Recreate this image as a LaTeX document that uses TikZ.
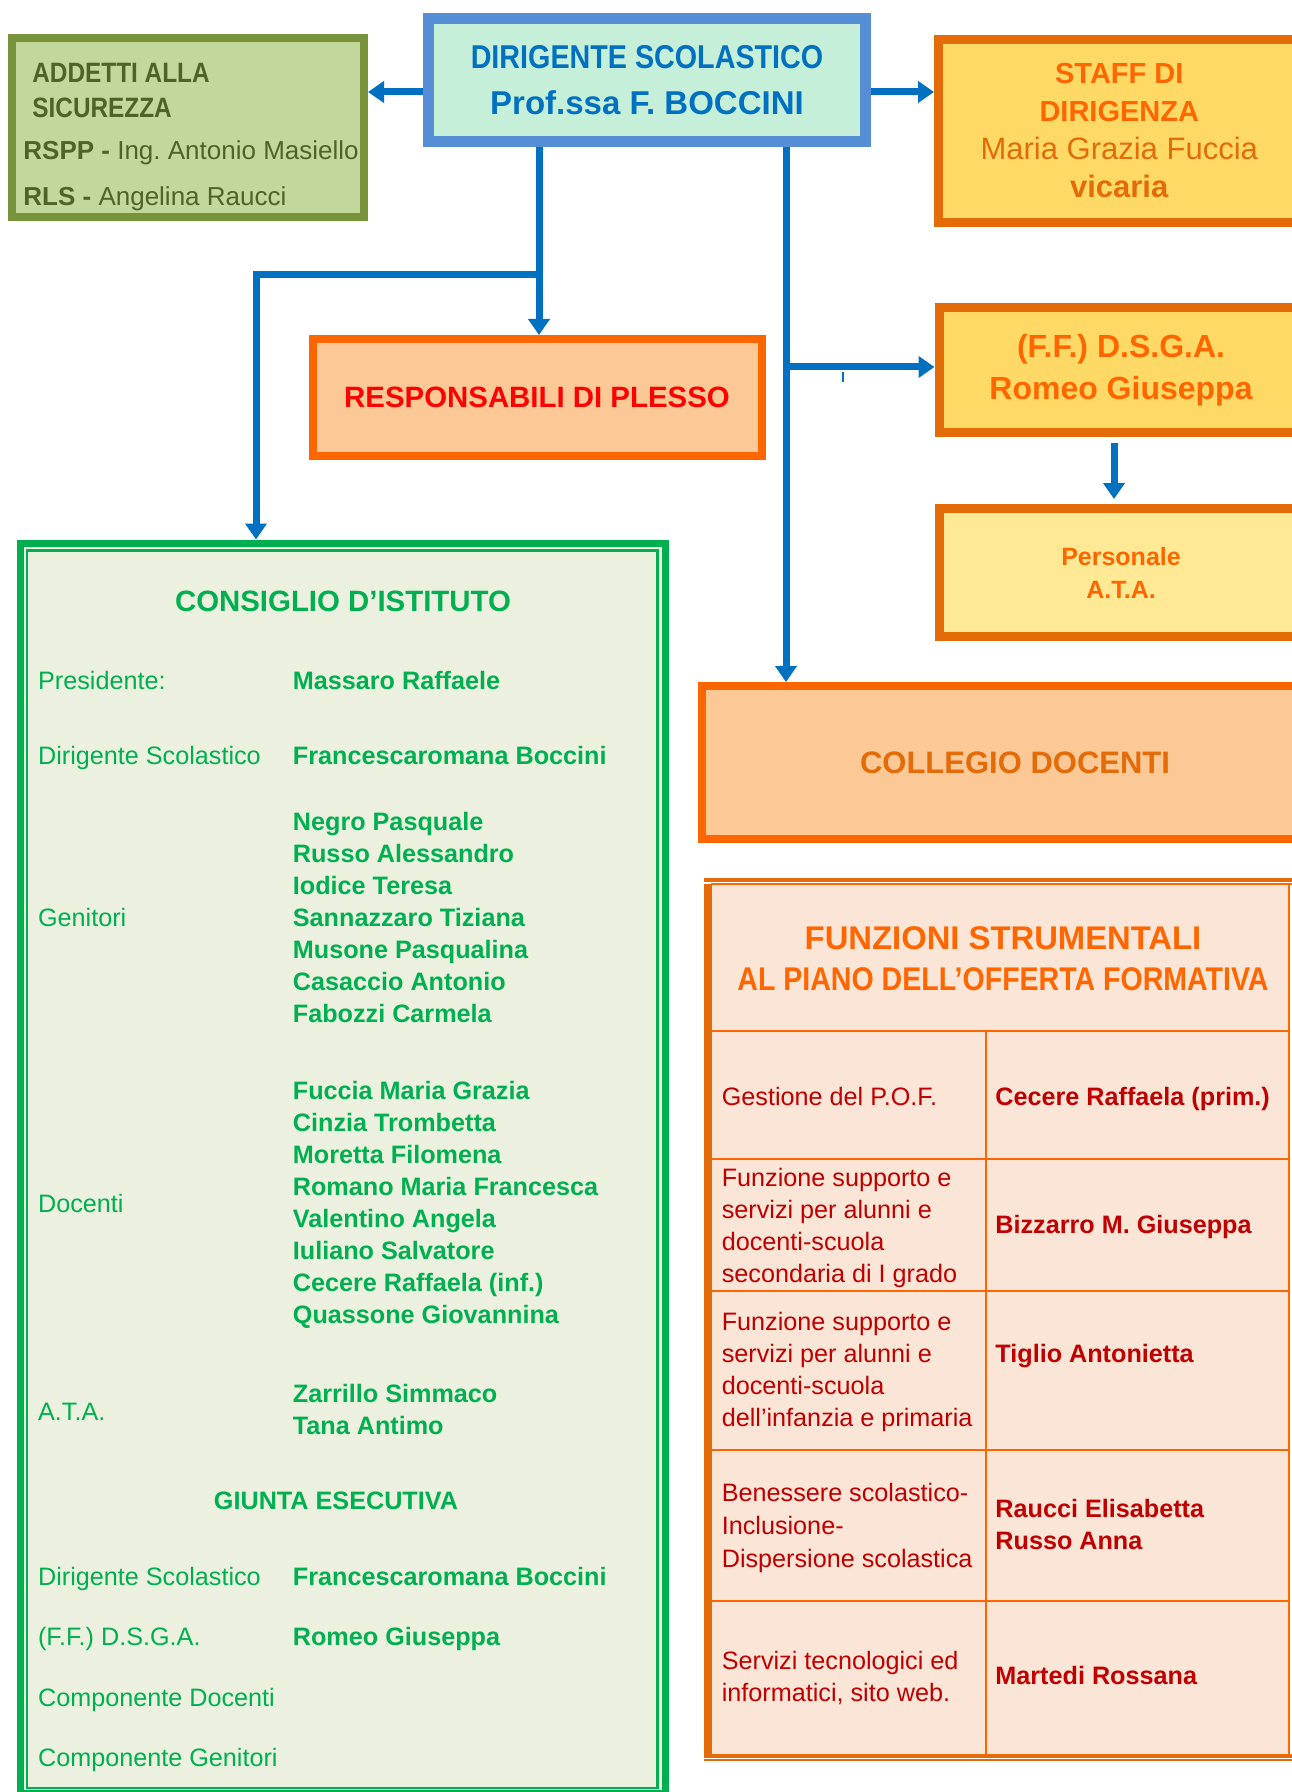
\documentclass[tikz,border=0pt]{standalone}
\usepackage{fontspec}
\setmainfont{Liberation Sans}
\newfontfamily\narrowfont[FakeStretch=0.87]{Liberation Sans}
\usepackage{xcolor}
\usetikzlibrary{arrows.meta}
\frenchspacing
\definecolor{dirborder}{HTML}{558ED5}
\definecolor{dirfill}{HTML}{C6EFDA}
\definecolor{dirtext}{HTML}{0070C0}
\definecolor{addborder}{HTML}{77933C}
\definecolor{addfill}{HTML}{C3D69B}
\definecolor{addtext}{HTML}{4F6228}
\definecolor{darkorange}{HTML}{E36C09}
\definecolor{brightorange}{HTML}{FF6600}
\definecolor{yellowfill}{HTML}{FFD966}
\definecolor{paleyellow}{HTML}{FFE994}
\definecolor{peachfill}{HTML}{FCC996}
\definecolor{plessored}{HTML}{FF0000}
\definecolor{tablefill}{HTML}{FBE5D6}
\definecolor{tabletext}{HTML}{C00000}
\definecolor{cigreen}{HTML}{00B050}
\definecolor{cifill}{HTML}{EBF1DE}
\definecolor{arrowblue}{HTML}{0070C0}
\tikzstyle{orgbox} = [rectangle, inner sep=0pt, align=center]
\tikzstyle{linkarrow} = [draw=arrowblue, line width=3.5pt,
    -{Triangle[length=8pt,width=10.5pt]}]
\tikzstyle{cilabel} = [anchor=base west, inner sep=0pt, align=left,
    text=cigreen, font=\fontsize{12.6}{16}\selectfont]
\tikzstyle{ciname} = [cilabel, font=\fontsize{12.6}{16}\selectfont\bfseries]
\tikzstyle{fslabel} = [anchor=base west, inner sep=0pt, align=left,
    text=tabletext, font=\fontsize{12.6}{16}\selectfont]
\tikzstyle{fsname} = [fslabel, font=\fontsize{12.6}{16}\selectfont\bfseries]
\tikzstyle{fsrule} = [draw=brightorange, line width=1pt]

\begin{document}
\begin{tikzpicture}[x=0.5pt, y=-0.5pt]
    \path[use as bounding box, fill=white] (0,0) rectangle (1291,1792);

    \node [orgbox, draw=dirborder, fill=dirfill, line width=5.5pt,
        minimum width=218.5pt, minimum height=61.5pt, text=dirtext,
        font=\fontsize{16.5}{23.35}\selectfont\bfseries] (dirigente) at (647,80)
        {{\narrowfont DIRIGENTE SCOLASTICO}\\Prof.ssa F. BOCCINI};
    \node [orgbox, draw=addborder, fill=addfill, line width=4pt,
        minimum width=176pt, minimum height=89.5pt] (addetti) at (188,127.5) {};
    \node [anchor=base west, inner sep=0pt, align=left, text=addtext,
        font=\fontsize{13}{17.5}\selectfont] (addettitxt) at (23,206) {
        \hspace*{4.5pt}{\narrowfont\bfseries\fontsize{14}{17.5}\selectfont ADDETTI ALLA}\\
        \hspace*{4.5pt}{\narrowfont\bfseries\fontsize{14}{17.5}\selectfont SICUREZZA}\\[3.5pt]
        \textbf{RSPP -} Ing. Antonio Masiello\\[5.5pt]
        \textbf{RLS -} Angelina Raucci};
    \node [orgbox, draw=darkorange, fill=yellowfill, line width=4.5pt,
        minimum width=180.75pt, minimum height=91.5pt, text=darkorange,
        font=\fontsize{15.5}{19}\selectfont] (staff) at (1119.25,131)
        {{\color{brightorange}\bfseries\fontsize{14.5}{19}\selectfont STAFF DI}\\
         {\color{brightorange}\bfseries\fontsize{14.5}{19}\selectfont DIRIGENZA}\\
         Maria Grazia Fuccia\\\textbf{vicaria}};
    \node [orgbox, draw=brightorange, fill=peachfill, line width=4pt,
        minimum width=224.5pt, minimum height=58.5pt, text=plessored,
        font=\fontsize{14.7}{18}\selectfont\bfseries] (responsabili) at (537,397.5)
        {RESPONSABILI DI PLESSO};
    \node [orgbox, draw=darkorange, fill=yellowfill, line width=4.5pt,
        minimum width=182pt, minimum height=62.25pt, text=brightorange,
        font=\fontsize{16}{21}\selectfont\bfseries] (dsga) at (1121,369.75)
        {(F.F.) D.S.G.A.\\Romeo Giuseppa};
    \node [orgbox, draw=darkorange, fill=paleyellow, line width=4.5pt,
        minimum width=182pt, minimum height=64pt, text=brightorange,
        font=\fontsize{12.5}{16.5}\selectfont\bfseries] (ata) at (1121,572.5)
        {Personale\\A.T.A.};
    \node [orgbox, draw=brightorange, fill=peachfill, line width=4pt,
        minimum width=313pt, minimum height=76.5pt, text=darkorange,
        font=\fontsize{15.5}{19}\selectfont\bfseries] (collegio) at (1015,762.5)
        {COLLEGIO DOCENTI};

    \node [orgbox, draw=cigreen, fill=cifill, line width=3.5pt,
        minimum width=322.25pt, minimum height=625pt] (consiglio) at (342.75,1168) {};
    \draw [cigreen, line width=1.25pt] ([shift={(10,11)}]consiglio.north west)
        rectangle ([shift={(-11,-8.5)}]consiglio.south east);
    \node [anchor=base, inner sep=0pt, text=cigreen,
        font=\fontsize{14.7}{18}\selectfont\bfseries] (cititle) at (343,611)
        {CONSIGLIO D’ISTITUTO};
    \node [cilabel] (lpres) at (37.7,689) {Presidente:};
    \node [ciname] (npres) at (292.5,689) {Massaro Raffaele};
    \node [cilabel] (ldir) at (37.7,764) {Dirigente Scolastico};
    \node [ciname] (ndir) at (292.5,764) {Francescaromana Boccini};
    \node [cilabel] (lgen) at (37.7,926.6) {Genitori};
    \node [ciname] (ngen) at (292.5,1022.6) {Negro Pasquale\\Russo Alessandro\\
        Iodice Teresa\\Sannazzaro Tiziana\\Musone Pasqualina\\Casaccio Antonio\\
        Fabozzi Carmela};
    \node [cilabel] (ldoc) at (37.7,1212) {Docenti};
    \node [ciname] (ndoc) at (292.5,1323) {Fuccia Maria Grazia\\Cinzia Trombetta\\
        Moretta Filomena\\Romano Maria Francesca\\Valentino Angela\\
        Iuliano Salvatore\\Cecere Raffaela (inf.)\\Quassone Giovannina};
    \node [cilabel] (lata) at (37.7,1420) {A.T.A.};
    \node [ciname] (nata) at (292.5,1434) {Zarrillo Simmaco\\Tana Antimo};
    \node [anchor=base, inner sep=0pt, text=cigreen,
        font=\fontsize{12.6}{16}\selectfont\bfseries] (giunta) at (336,1509)
        {GIUNTA ESECUTIVA};
    \node [cilabel] (lgdir) at (37.7,1585) {Dirigente Scolastico};
    \node [ciname] (ngdir) at (292.5,1585) {Francescaromana Boccini};
    \node [cilabel] (lgdsga) at (37.7,1645) {(F.F.) D.S.G.A.};
    \node [ciname] (ngdsga) at (292.5,1645) {Romeo Giuseppa};
    \node [cilabel] (lgdoc) at (37.7,1706) {Componente Docenti};
    \node [cilabel] (lggen) at (37.7,1766) {Componente Genitori};

    \node [rectangle, inner sep=0pt, fill=tablefill, minimum width=289pt,
        minimum height=435.5pt] (funzioni) at (1000,1319.5) {};
    \draw [darkorange, line width=1.75pt] (704,880) -- (1300,880);
    \draw [darkorange, line width=4pt] (707.5,884) -- (707.5,1757);
    \draw [darkorange, line width=2pt] (704,1755.5) -- (1300,1755.5);
    \draw [darkorange, line width=1pt] (704,1760) -- (1300,1760);
    \draw [fsrule] (711,884) -- (1300,884);
    \draw [fsrule] (1289,884) -- (1289,1755);
    \draw [fsrule] (711,1031) -- (1289,1031);
    \draw [fsrule] (711,1159) -- (1289,1159);
    \draw [fsrule] (711,1291) -- (1289,1291);
    \draw [fsrule] (711,1450) -- (1289,1450);
    \draw [fsrule] (711,1601) -- (1289,1601);
    \draw [fsrule] (986,1031) -- (986,1755);
    \node [anchor=base, inner sep=0pt, align=center, text=brightorange,
        font=\fontsize{16.4}{20.25}\selectfont\bfseries] (fstitle) at (1003,990)
        {FUNZIONI STRUMENTALI\\{\narrowfont AL PIANO DELL’OFFERTA FORMATIVA}};
    \node [fslabel] (f1) at (721.4,1105) {Gestione del P.O.F.};
    \node [fsname] (p1) at (995,1105) {Cecere Raffaela (prim.)};
    \node [fslabel] (f2) at (721.4,1282) {Funzione supporto e\\servizi per alunni e\\
        docenti-scuola\\secondaria di I grado};
    \node [fsname] (p2) at (995,1233) {Bizzarro M. Giuseppa};
    \node [fslabel] (f3) at (721.4,1426.7) {Funzione supporto e\\servizi per alunni e\\
        docenti-scuola\\dell’infanzia e primaria};
    \node [fsname] (p3) at (995,1362.7) {Tiglio Antonietta};
    \node [fslabel, font=\fontsize{12.6}{16.6}\selectfont] (f4) at (721.4,1567.4)
        {Benessere scolastico-\\Inclusione-\\Dispersione scolastica};
    \node [fsname] (p4) at (995,1549) {Raucci Elisabetta\\Russo Anna};
    \node [fslabel] (f5) at (721.4,1701) {Servizi tecnologici ed\\informatici, sito web.};
    \node [fsname] (p5) at (995,1684) {Martedi Rossana};

    \coordinate (toplevel) at (0,92);
    \coordinate (leftdrop) at (539,275);
    \coordinate (cibend) at (256,275);
    \coordinate (rightdrop) at (786,367);
    \coordinate (atadrop) at (1114,0);
    \draw [linkarrow] (dirigente.west |- toplevel) -- (addetti.east |- toplevel);
    \draw [linkarrow] (dirigente.east |- toplevel) -- (staff.west |- toplevel);
    \draw [linkarrow] (dirigente.south -| leftdrop) -- (responsabili.north -| leftdrop);
    \draw [linkarrow] (leftdrop) -- (cibend) -- (consiglio.north -| cibend);
    \draw [linkarrow] (dirigente.south -| rightdrop) -- (collegio.north -| rightdrop);
    \draw [linkarrow] (rightdrop) -- (dsga.west |- rightdrop);
    \draw [linkarrow, shorten <=3pt, shorten >=2.5pt] (dsga.south -| atadrop)
        -- (ata.north -| atadrop);
    \draw [arrowblue, line width=0.6pt] (843,372) -- (843,382);
\end{tikzpicture}
\end{document}
